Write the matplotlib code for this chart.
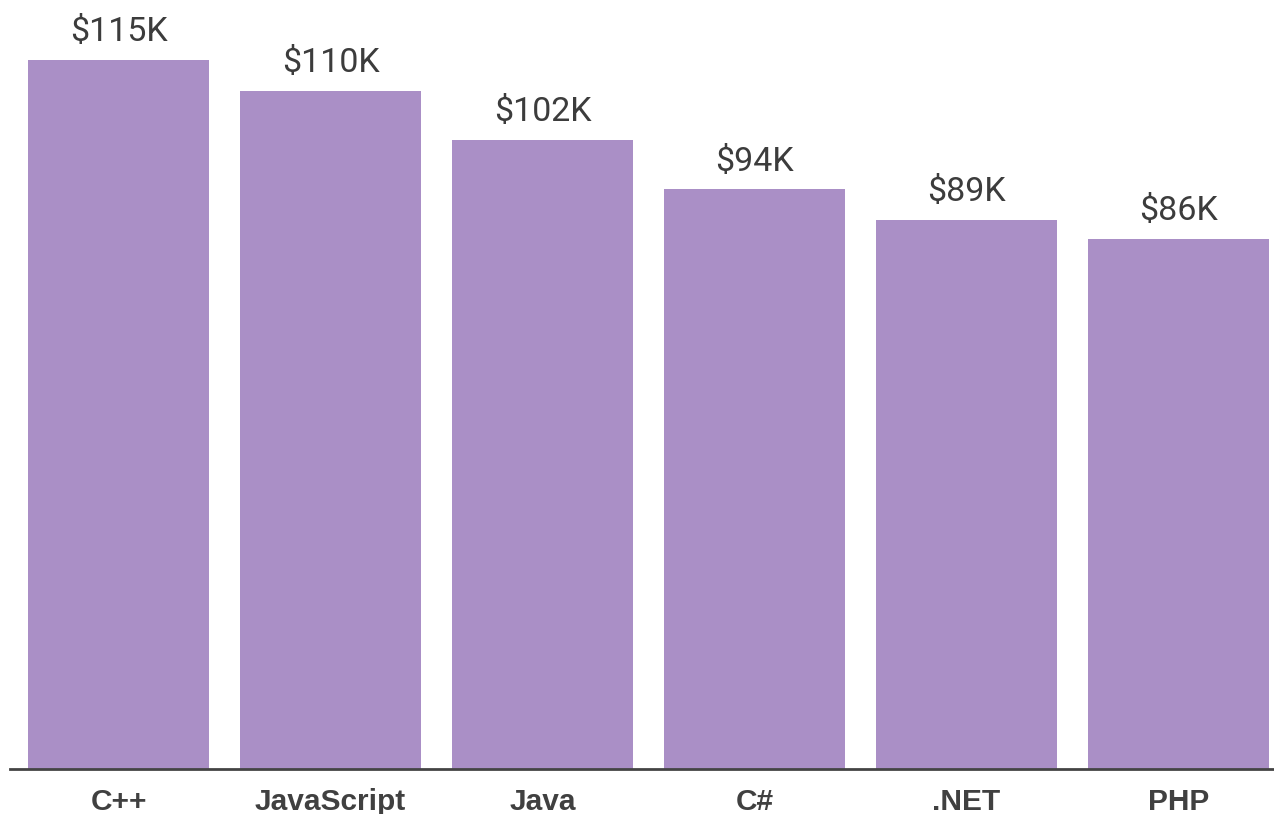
import matplotlib.pyplot as plt

languages = ['C++', 'JavaScript', 'Java', 'C#', '.NET', 'PHP']
salaries = [115, 110, 102, 94, 89, 86]  # thousands of dollars
salary_labels = ['$115K', '$110K', '$102K', '$94K', '$89K', '$86K']

fig = plt.figure(figsize=(12.74, 8.14), dpi=100)
ax = fig.add_axes([0.0079, 0.0553, 0.9921, 0.9447])

x = range(len(languages))
bars = ax.bar(x, salaries, width=0.854, color='#aa8fc6')

for rect, text in zip(bars, salary_labels):
    ax.text(rect.get_x() + rect.get_width() / 2, rect.get_height() + 1.9, text,
            ha='center', va='bottom', fontsize=24.5, color='#3c3c3c',
            family='Roboto')

ax.set_xlim(-0.512, 5.45)
ax.set_ylim(0, 124.7)
ax.set_xticks(list(x))
ax.set_xticklabels(languages, fontsize=21.5, fontweight='bold', color='#404040',
                   family='Liberation Sans')
ax.tick_params(axis='x', length=0, pad=14)
ax.set_yticks([])
for side in ['top', 'right', 'left']:
    ax.spines[side].set_visible(False)
ax.spines['bottom'].set_color('#444444')
ax.spines['bottom'].set_linewidth(2)

fig.savefig('out.png', dpi=100)
